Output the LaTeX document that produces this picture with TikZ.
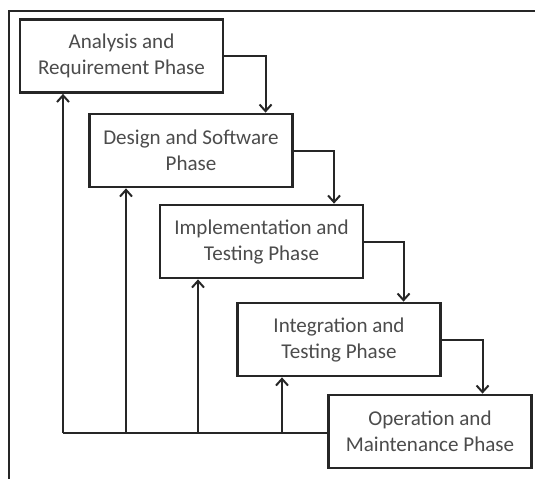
\documentclass[tikz,border=0pt]{standalone}
\usepackage{fontspec}
\setmainfont{Carlito}
\usetikzlibrary{positioning,arrows.meta,calc}

\begin{document}
\begin{tikzpicture}[
		x=0.75pt, y=-0.75pt,
		every node/.style={font=\fontsize{15.8}{19.5}\selectfont, text=black!70},
		phase/.style={rectangle, draw=black!85, line width=1.8pt, minimum width=152pt, minimum height=55pt, align=center, fill=white},
		arrow/.style={-{Straight Barb[length=5pt,width=9pt]}, line width=1.5pt, draw=black!85},
		feed/.style={line width=1.5pt, draw=black!85}
	]
	\useasboundingbox (0,0) rectangle (535,479);

	% Frame
	\draw[line width=1.4pt, black!85] (535,11) -| (9,479);

	% Phases
	\node[phase] (AR) at (121.5,56) {Analysis and\\Requirement Phase};
	\node[phase] (DS) at (191,150.5) {Design and Software\\Phase};
	\node[phase] (IT) at (261.5,241.5) {Implementation and\\Testing Phase};
	\node[phase] (IG) at (339,339.5) {Integration and\\Testing Phase};
	\node[phase] (OM) at (430,431.5) {Operation and\\Maintenance Phase};

	% Arrows
	\draw[arrow] (AR.east) -| ([xshift=-21pt]DS.north east);
	\draw[arrow] (DS.east) -| ([xshift=-22.5pt]IT.north east);
	\draw[arrow] (IT.east) -| ([xshift=-28.5pt]IG.north east);
	\draw[arrow] (IG.east) -| ([xshift=-37.5pt]OM.north east);

	% Feedback
	\coordinate (f1) at (63,433);
	\coordinate (f2) at (126,433);
	\coordinate (f3) at (198,433);
	\coordinate (f4) at (282,433);
	\draw[feed] (f1 -| OM.west) -- (f1);
	\draw[arrow] (f1) -- (f1 |- AR.south);
	\draw[arrow] (f2) -- (f2 |- DS.south);
	\draw[arrow] (f3) -- (f3 |- IT.south);
	\draw[arrow] (f4) -- (f4 |- IG.south);

\end{tikzpicture}
\end{document}
